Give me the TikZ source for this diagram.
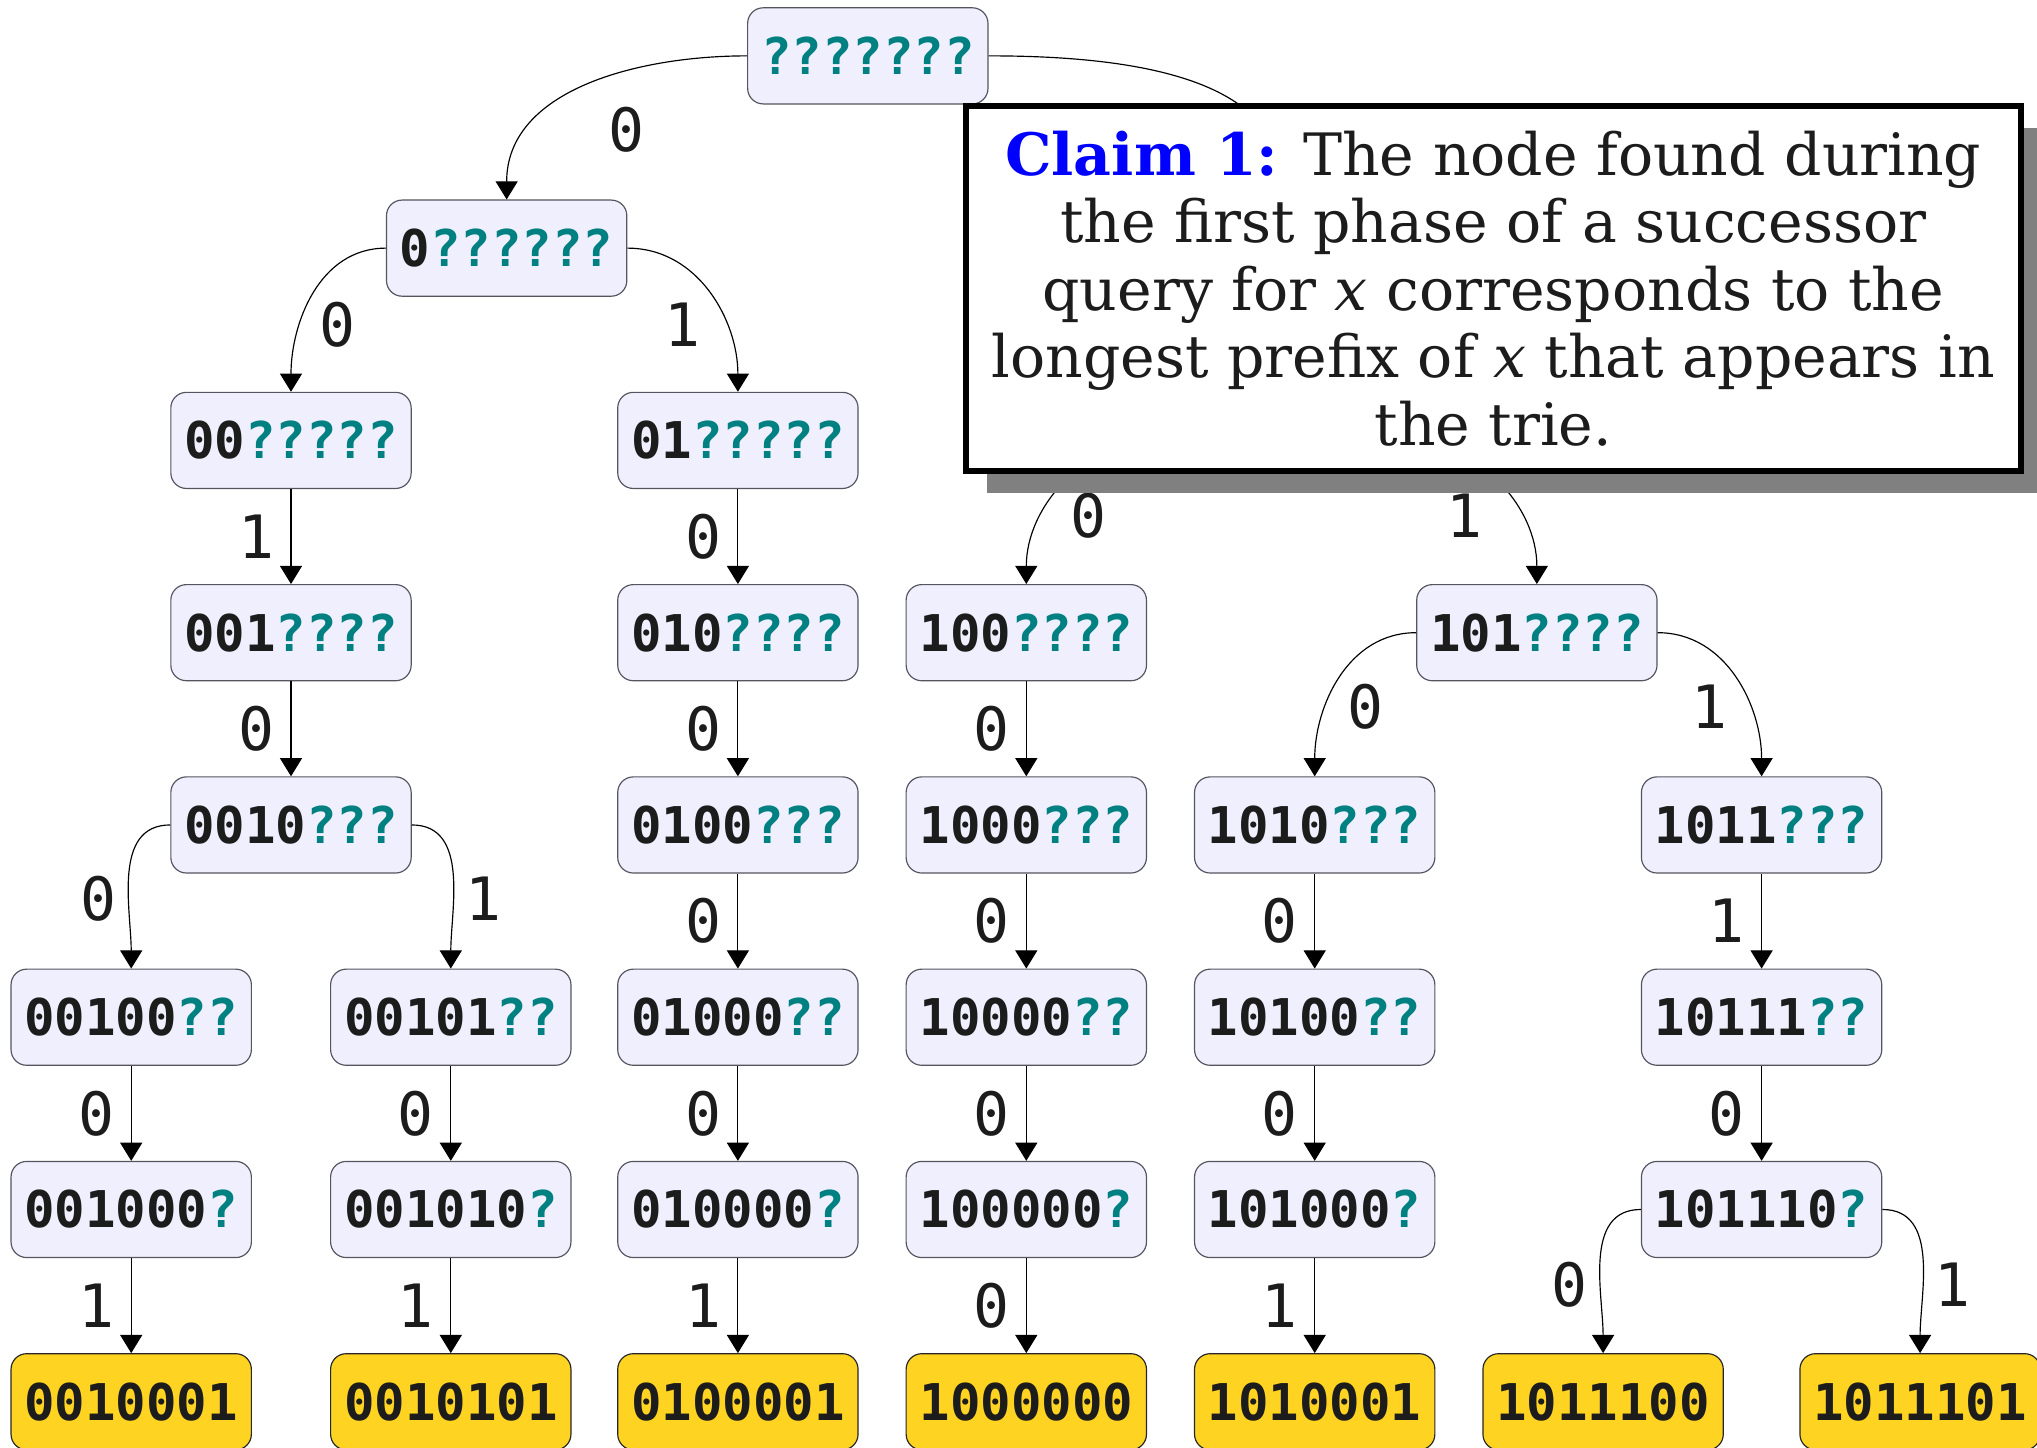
\documentclass[tikz,border=0pt]{standalone}
\usepackage{fontspec}
\setmainfont{DejaVu Serif}
\newfontfamily\triefont{DejaVu Sans Mono}
\usetikzlibrary{arrows.meta,positioning,shadows}

\definecolor{nodefill}{RGB}{239,239,254}
\definecolor{nodeedge}{RGB}{85,85,95}
\definecolor{leaffill}{RGB}{255,211,33}
\definecolor{bitgray}{RGB}{28,28,28}
\definecolor{qmark}{RGB}{0,128,128}

\newcommand{\pre}[2]{#1\textcolor{qmark}{#2}}

\tikzstyle{trienode} = [rectangle, rounded corners=12pt, minimum width=185pt, minimum height=74pt, inner sep=0pt, draw=nodeedge, line width=0.9pt, fill=nodefill, text=bitgray, font=\triefont\bfseries\fontsize{39}{44}\selectfont]
\tikzstyle{leaf} = [trienode, draw=black!85, fill=leaffill]
\tikzstyle{bit} = [inner sep=0pt, text=bitgray, font=\triefont\fontsize{46}{50}\selectfont]
\tikzstyle{link} = [-{Triangle[width=17pt,length=14pt]}, line width=0.9pt]
\tikzstyle{claim} = [rectangle, draw=black, line width=5pt, fill=white, text=bitgray, minimum width=812pt, minimum height=281pt, align=center, font=\fontsize{45}{52}\selectfont, drop shadow={fill=gray, opacity=1, shadow xshift=16pt, shadow yshift=-17pt}]

\begin{document}
\begin{tikzpicture}[x=1pt,y=1pt]
\useasboundingbox (0,0) rectangle (1568,-1114);

\node(r) [trienode] at (668,-43) {\pre{}{???????}};
\node(p0) [trienode] at (390,-191) {\pre{0}{??????}};
% 1?????? and 10????? sit under the claim box
\coordinate (p1) at (986,-154);
\coordinate (p10w) at (893.5,-339);
\coordinate (p10e) at (1078.5,-339);

\node(p00) [trienode] at (224,-339) {\pre{00}{?????}};
\node(p01) [trienode] at (568,-339) {\pre{01}{?????}};

\node(p001) [trienode] at (224,-487) {\pre{001}{????}};
\node(p010) [trienode] at (568,-487) {\pre{010}{????}};
\node(p100) [trienode] at (790,-487) {\pre{100}{????}};
\node(p101) [trienode] at (1183,-487) {\pre{101}{????}};

\node(p0010) [trienode] at (224,-635) {\pre{0010}{???}};
\node(p0100) [trienode] at (568,-635) {\pre{0100}{???}};
\node(p1000) [trienode] at (790,-635) {\pre{1000}{???}};
\node(p1010) [trienode] at (1012,-635) {\pre{1010}{???}};
\node(p1011) [trienode] at (1356,-635) {\pre{1011}{???}};

\node(p00100) [trienode] at (101,-783) {\pre{00100}{??}};
\node(p00101) [trienode] at (347,-783) {\pre{00101}{??}};
\node(p01000) [trienode] at (568,-783) {\pre{01000}{??}};
\node(p10000) [trienode] at (790,-783) {\pre{10000}{??}};
\node(p10100) [trienode] at (1012,-783) {\pre{10100}{??}};
\node(p10111) [trienode] at (1356,-783) {\pre{10111}{??}};

\node(p001000) [trienode] at (101,-931) {\pre{001000}{?}};
\node(p001010) [trienode] at (347,-931) {\pre{001010}{?}};
\node(p010000) [trienode] at (568,-931) {\pre{010000}{?}};
\node(p100000) [trienode] at (790,-931) {\pre{100000}{?}};
\node(p101000) [trienode] at (1012,-931) {\pre{101000}{?}};
\node(p101110) [trienode] at (1356,-931) {\pre{101110}{?}};

\node(p0010001) [leaf] at (101,-1079) {0010001};
\node(p0010101) [leaf] at (347,-1079) {0010101};
\node(p0100001) [leaf] at (568,-1079) {0100001};
\node(p1000000) [leaf] at (790,-1079) {1000000};
\node(p1010001) [leaf] at (1012,-1079) {1010001};
\node(p1011100) [leaf] at (1234,-1079) {1011100};
\node(p1011101) [leaf] at (1478,-1079) {1011101};

% branching edges
\draw[link] (r.west) to[out=180,in=90] (p0.north) node[bit] at (482,-100) {0};
\draw[link] (r.east) to[out=0,in=90] (p1);
\draw[link] (p0.west) to[out=180,in=90] (p00.north) node[bit] at (260,-250) {0};
\draw[link] (p0.east) to[out=0,in=90] (p01.north) node[bit] at (525,-250) {1};
\draw[link] (p0010.west) to[out=180,in=90] (p00100.north) node[bit] at (76,-692) {0};
\draw[link] (p0010.east) to[out=0,in=90] (p00101.north) node[bit] at (372,-692) {1};
\draw[link] (p10w) to[out=180,in=90] (p100.north) node[bit] at (838,-397) {0};
\draw[link] (p10e) to[out=0,in=90] (p101.north) node[bit] at (1127,-397) {1};
\draw[link] (p101.west) to[out=180,in=90] (p1010.north) node[bit] at (1051,-544) {0};
\draw[link] (p101.east) to[out=0,in=90] (p1011.north) node[bit] at (1316,-544) {1};
\draw[link] (p101110.west) to[out=180,in=90] (p1011100.north) node[bit] at (1208,-989) {0};
\draw[link] (p101110.east) to[out=0,in=90] (p1011101.north) node[bit] at (1503,-989) {1};

% single-child chains
\path[link] (p00.south) edge node[bit,left=12.5pt]{1} (p001.north)
            (p001.south) edge node[bit,left=12.5pt]{0} (p0010.north);
\path[link] (p00100.south) edge node[bit,left=12.5pt]{0} (p001000.north)
            (p001000.south) edge node[bit,left=12.5pt]{1} (p0010001.north);
\path[link] (p00101.south) edge node[bit,left=12.5pt]{0} (p001010.north)
            (p001010.south) edge node[bit,left=12.5pt]{1} (p0010101.north);
\path[link] (p01.south) edge node[bit,left=12.5pt]{0} (p010.north)
            (p010.south) edge node[bit,left=12.5pt]{0} (p0100.north)
            (p0100.south) edge node[bit,left=12.5pt]{0} (p01000.north)
            (p01000.south) edge node[bit,left=12.5pt]{0} (p010000.north)
            (p010000.south) edge node[bit,left=12.5pt]{1} (p0100001.north);
\path[link] (p100.south) edge node[bit,left=12.5pt]{0} (p1000.north)
            (p1000.south) edge node[bit,left=12.5pt]{0} (p10000.north)
            (p10000.south) edge node[bit,left=12.5pt]{0} (p100000.north)
            (p100000.south) edge node[bit,left=12.5pt]{0} (p1000000.north);
\path[link] (p1010.south) edge node[bit,left=12.5pt]{0} (p10100.north)
            (p10100.south) edge node[bit,left=12.5pt]{0} (p101000.north)
            (p101000.south) edge node[bit,left=12.5pt]{1} (p1010001.north);
\path[link] (p1011.south) edge node[bit,left=12.5pt]{1} (p10111.north)
            (p10111.south) edge node[bit,left=12.5pt]{0} (p101110.north);

\node(claim) [claim] at (1149.5,-222) {{\color{blue}\bfseries Claim 1:} The node found during\\
the first phase of a successor\\
query for \textit{x} corresponds to the\\
longest prefix of \textit{x} that appears in\\
the trie.};

\end{tikzpicture}
\end{document}
